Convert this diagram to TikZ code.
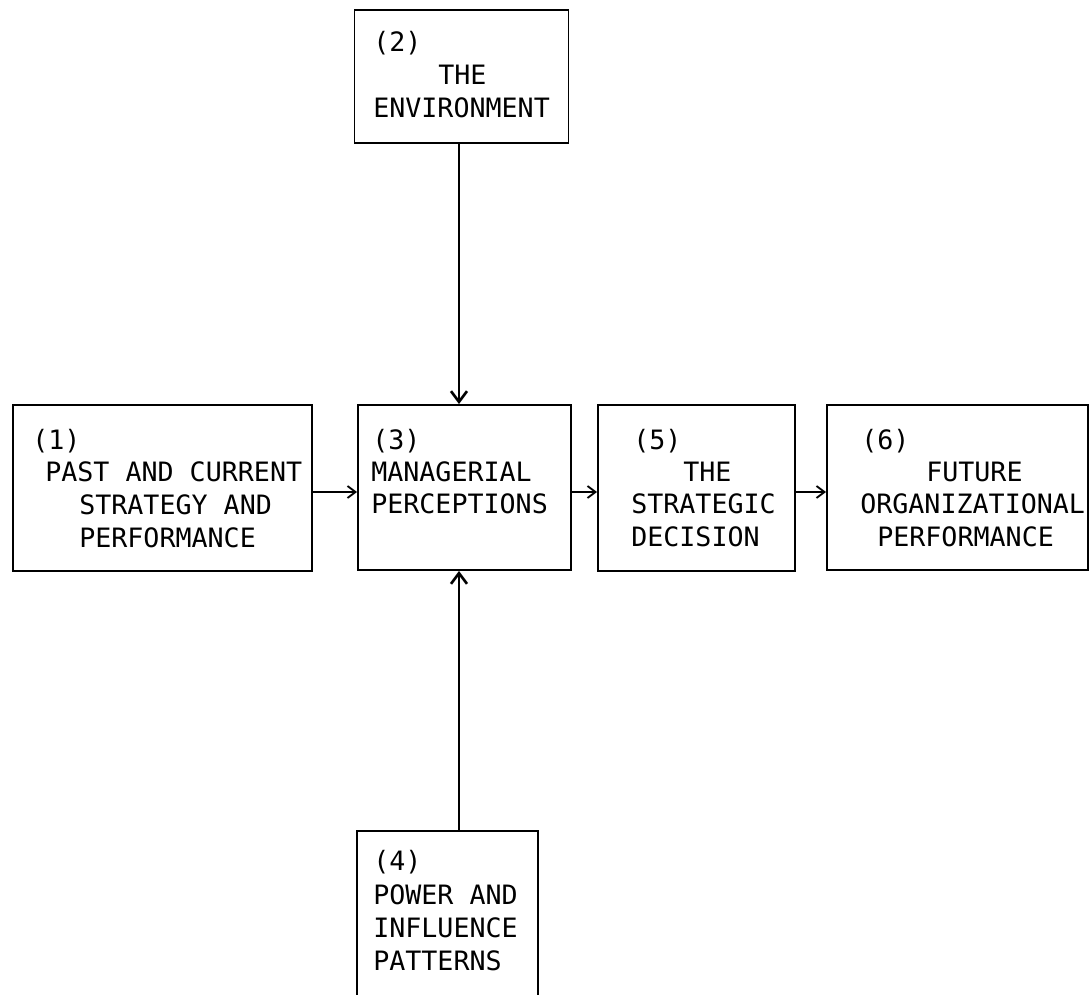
\documentclass[tikz,border=0pt]{standalone}
\usepackage{fontspec}
\setmonofont{DejaVu Sans Mono}
\usetikzlibrary{arrows.meta}
\begin{document}
\begin{tikzpicture}[x=0.75pt,y=-0.75pt,
  box/.style={draw,line width=1.4pt,rectangle,inner sep=0pt},
  lbl/.style={anchor=base west,inner sep=0pt,font=\ttfamily\fontsize{20pt}{24pt}\selectfont},
  link/.style={line width=1.4pt,-{Straight Barb[length=6pt,width=9pt,line width=1.4pt]}},
  thick link/.style={line width=2pt,-{Straight Barb[length=8pt,width=12pt,line width=2pt]}}]
\useasboundingbox (0,0) rectangle (1090,995);
\clip (0,0) rectangle (1090,995);

% boxes
\node[box,minimum width=214pt*0.75/0.75*0.75,minimum height=133*0.75pt] (b2) at (461.5,76.5) {};
\node[box,minimum width=299*0.75pt,minimum height=166*0.75pt] (b1) at (162.5,488) {};
\node[box,minimum width=213*0.75pt,minimum height=165*0.75pt] (b3) at (464.5,487.5) {};
\node[box,minimum width=197*0.75pt,minimum height=166*0.75pt] (b5) at (596.5+100,488) {};
\node[box,minimum width=261*0.75pt,minimum height=165*0.75pt] (b6) at (957.5,487.5) {};
\node[box,minimum width=181*0.75pt,minimum height=180*0.75pt] (b4) at (447.5,921) {};

% box 2
\node[lbl] (t2a) at (373,52) {(2)};
\node[lbl] (t2b) at (438,85) {THE};
\node[lbl] (t2c) at (373,118) {ENVIRONMENT};
% box 1
\node[lbl] (t1a) at (32,449) {(1)};
\node[lbl] (t1b) at (45,481) {PAST AND CURRENT};
\node[lbl] (t1c) at (79,514) {STRATEGY AND};
\node[lbl] (t1d) at (79,547) {PERFORMANCE};
% box 3
\node[lbl] (t3a) at (372,449) {(3)};
\node[lbl] (t3b) at (371,481) {MANAGERIAL};
\node[lbl] (t3c) at (371,513) {PERCEPTIONS};
% box 5
\node[lbl] (t5a) at (633,449) {(5)};
\node[lbl] (t5b) at (683,481) {THE};
\node[lbl] (t5c) at (631,513) {STRATEGIC};
\node[lbl] (t5d) at (631,546) {DECISION};
% box 6
\node[lbl] (t6a) at (861,449) {(6)};
\node[lbl] (t6b) at (926,481) {FUTURE};
\node[lbl] (t6c) at (860,513) {ORGANIZATIONAL};
\node[lbl] (t6d) at (877,546) {PERFORMANCE};
% box 4
\node[lbl] (t4a) at (373,870) {(4)};
\node[lbl] (t4b) at (373,904) {POWER AND};
\node[lbl] (t4c) at (373,937) {INFLUENCE};
\node[lbl] (t4d) at (373,970) {PATTERNS};

% connectors
\coordinate (v) at (459,0);
\coordinate (h) at (0,492);
\draw[thick link] (v |- b2.south) -- (v |- b3.north);
\draw[thick link] (v |- b4.north) -- (v |- b3.south);
\draw[link] (b1.east |- h) -- (b3.west |- h);
\draw[link] (b3.east |- h) -- (b5.west |- h);
\draw[link] (b5.east |- h) -- (b6.west |- h);
\end{tikzpicture}
\end{document}
